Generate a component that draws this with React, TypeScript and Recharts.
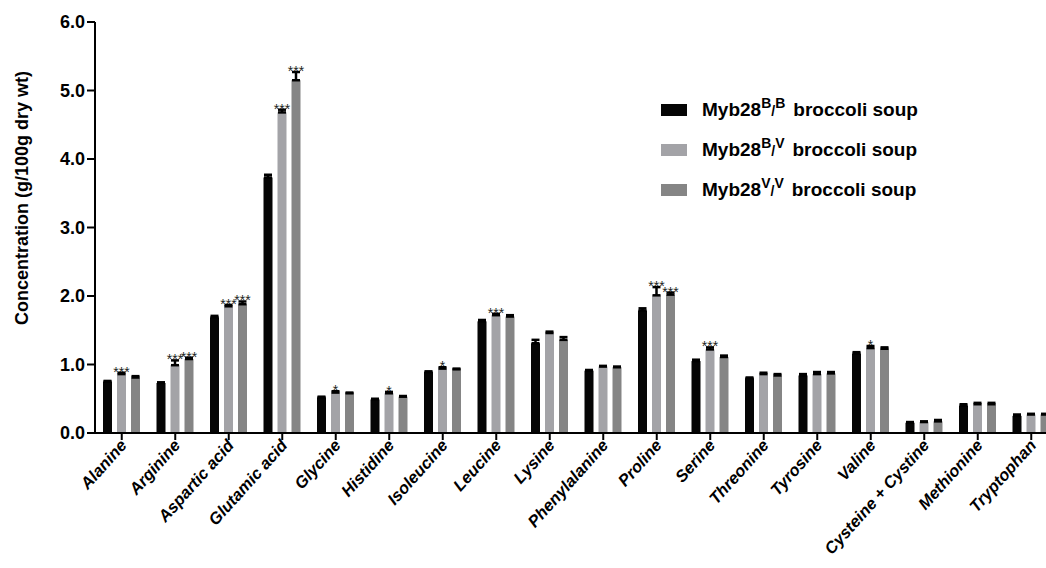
import React from 'react'
import { BarChart, Bar, XAxis, YAxis, ErrorBar } from 'recharts'

const FONT = 'Arial, "Liberation Sans", Helvetica, sans-serif'

const categories = [
  'Alanine', 'Arginine', 'Aspartic acid', 'Glutamic acid', 'Glycine', 'Histidine',
  'Isoleucine', 'Leucine', 'Lysine', 'Phenylalanine', 'Proline', 'Serine',
  'Threonine', 'Tyrosine', 'Valine', 'Cysteine + Cystine', 'Methionine', 'Tryptophan',
]

const bbValues = [0.75, 0.73, 1.69, 3.73, 0.52, 0.49, 0.89, 1.63, 1.31, 0.91, 1.79, 1.05, 0.8, 0.84, 1.16, 0.15, 0.4, 0.25]
const bvValues = [0.86, 0.99, 1.85, 4.68, 0.59, 0.58, 0.94, 1.72, 1.46, 0.97, 2.01, 1.22, 0.86, 0.86, 1.24, 0.16, 0.42, 0.27]
const vvValues = [0.81, 1.08, 1.88, 5.15, 0.58, 0.53, 0.93, 1.7, 1.36, 0.96, 2.02, 1.11, 0.84, 0.87, 1.23, 0.17, 0.42, 0.27]

const bbErrors = [0.01, 0.01, 0.02, 0.04, 0.01, 0.01, 0.01, 0.02, 0.05, 0.01, 0.03, 0.02, 0.01, 0.02, 0.02, 0.01, 0.02, 0.02]
const bvErrors = [0.02, 0.07, 0.02, 0.04, 0.02, 0.02, 0.02, 0.02, 0.02, 0.01, 0.12, 0.03, 0.02, 0.03, 0.03, 0.01, 0.02, 0.01]
const vvErrors = [0.02, 0.02, 0.04, 0.12, 0.01, 0.01, 0.01, 0.02, 0.04, 0.01, 0.03, 0.02, 0.02, 0.02, 0.02, 0.02, 0.02, 0.01]

const bvStars = ['***', '***', '***', '***', '*', '*', '*', '***', '', '', '***', '***', '', '', '*', '', '', '']
const vvStars = ['', '***', '***', '***', '', '', '', '', '', '', '***', '', '', '', '', '', '', '']

const yTicks = [0, 1, 2, 3, 4, 5, 6]

const series = [
  { key: 'bb', sup1: 'B', sup2: 'B', color: '#050505' },
  { key: 'bv', sup1: 'B', sup2: 'V', color: '#a3a3a7' },
  { key: 'vv', sup1: 'V', sup2: 'V', color: '#858585' },
]

const data = categories.map((name, i) => ({
  name,
  bb: bbValues[i],
  bv: bvValues[i],
  vv: vvValues[i],
  bbErr: [0, bbErrors[i]],
  bvErr: [0, bvErrors[i]],
  vvErr: [0, vvErrors[i]],
  bbStar: '',
  bvStar: bvStars[i],
  vvStar: vvStars[i],
}))

function makeShape(key: string, color: string) {
  return (props: any) => {
    const { x, y, width, height, payload } = props
    const value = payload[key]
    const err = payload[key + 'Err'][1]
    const star = payload[key + 'Star']
    const perUnit = value ? height / value : 0
    const errTop = y - err * perUnit
    return (
      <g>
        <rect x={x} y={y} width={width} height={height} fill={color} />
        {star ? (
          <text
            x={x + width / 2}
            y={errTop + 4}
            textAnchor="middle"
            fontSize={14}
            fontFamily={FONT}
            fill="#222"
          >
            {star}
          </text>
        ) : null}
      </g>
    )
  }
}

function AngledTick(props: any) {
  const { x, y, payload } = props
  return (
    <g transform={`translate(${x + 6},${y + 4})`}>
      <text
        x={0}
        y={0}
        textAnchor="end"
        transform="rotate(-48)"
        fontSize={16.5}
        fontWeight="bold"
        fontStyle="italic"
        fontFamily={FONT}
        fill="#000"
      >
        {payload.value}
      </text>
    </g>
  )
}

function LegendBox() {
  return (
    <div
      style={{
        position: 'absolute',
        left: 661,
        top: 90,
        fontFamily: FONT,
        fontWeight: 'bold',
        fontSize: 19,
        color: '#000',
      }}
    >
      {series.map((s) => (
        <div key={s.key} style={{ display: 'flex', alignItems: 'center', height: 40 }}>
          <span style={{ width: 26, height: 12, background: s.color, marginRight: 15 }} />
          <span style={{ whiteSpace: 'nowrap' }}>
            Myb28
            <sup style={{ fontSize: 14, verticalAlign: 'top', position: 'relative', top: -4 }}>{s.sup1}</sup>
            <span style={{ fontSize: 14 }}>/</span>
            <sup style={{ fontSize: 14, verticalAlign: 'top', position: 'relative', top: -4 }}>{s.sup2}</sup>
            <span style={{ marginLeft: 8 }}>broccoli soup</span>
          </span>
        </div>
      ))}
    </div>
  )
}

function YTitle() {
  const cy = 198
  return (
    <text
      x={28}
      y={cy}
      transform={`rotate(-90, 28, ${cy})`}
      textAnchor="middle"
      fontSize={18}
      fontWeight="bold"
      fontFamily={FONT}
      fill="#000"
    >
      Concentration (g/100g dry wt)
    </text>
  )
}

export default function App() {
  return (
    <div style={{ position: 'absolute', left: 0, top: 0, width: 1046, height: 568, overflow: 'hidden', background: '#fff' }}>
      <BarChart
        width={1070}
        height={568}
        data={data}
        margin={{ top: 22, right: 12, bottom: 0, left: 0 }}
        barSize={9}
        barGap={5}
      >
        <XAxis
          dataKey="name"
          interval={0}
          height={135}
          tick={<AngledTick />}
          tickSize={7}
          axisLine={{ stroke: '#000', strokeWidth: 2 }}
          tickLine={{ stroke: '#000', strokeWidth: 2 }}
        />
        <YAxis
          width={95}
          domain={[0, 6]}
          ticks={yTicks}
          interval={0}
          tickFormatter={(v: number) => v.toFixed(1)}
          tickSize={8}
          tickMargin={2}
          tick={{ fontSize: 18, fontWeight: 'bold', fill: '#000', fontFamily: FONT }}
          axisLine={{ stroke: '#000', strokeWidth: 2 }}
          tickLine={{ stroke: '#000', strokeWidth: 2 }}
          label={{ content: <YTitle /> }}
        />
        {series.map((s) => (
          <Bar key={s.key} dataKey={s.key} fill={s.color} shape={makeShape(s.key, s.color)} isAnimationActive={false}>
            <ErrorBar dataKey={s.key + 'Err'} width={4} stroke="#000" strokeWidth={2.5} />
          </Bar>
        ))}
      </BarChart>
      <LegendBox />
    </div>
  )
}
